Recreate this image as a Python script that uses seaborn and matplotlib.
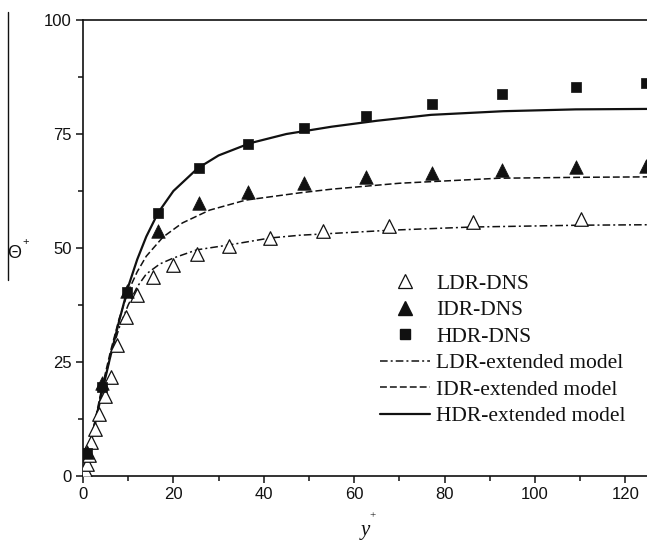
import matplotlib
matplotlib.use("Agg")
import matplotlib.pyplot as plt
from matplotlib.lines import Line2D
from matplotlib.ticker import MultipleLocator
import seaborn as sns
import pandas as pd

# ---- data ----
ldr_x = [0.2, 0.5, 0.8, 1.3, 1.8, 2.7, 3.5, 4.9, 6.2, 7.6, 9.6, 12.0, 15.5, 19.9, 25.2, 32.3, 41.4, 53.0, 67.7, 86.3, 110.2]
ldr_y = [0.5, 1.3, 2.6, 4.6, 7.5, 10.2, 13.5, 17.5, 21.8, 28.8, 34.9, 39.7, 43.6, 46.3, 48.7, 50.4, 52.2, 53.7, 54.8, 55.7, 56.4]

dns_x = [0.9, 4.2, 9.7, 16.6, 25.6, 36.5, 48.9, 62.6, 77.2, 92.7, 109.0, 124.5]
idr_y = [5.3, 20.5, 40.6, 53.8, 59.8, 62.3, 64.2, 65.5, 66.4, 67.2, 67.7, 67.9]
hdr_y = [5.0, 19.5, 40.4, 57.7, 67.6, 72.8, 76.3, 79.0, 81.6, 83.8, 85.4, 86.1]

hdr_mx = [0, 2, 4, 6, 8, 10, 12, 14, 16.6, 20, 25.4, 30, 37, 45, 55, 65, 77, 93, 109, 125]
hdr_my = [0, 8.5, 17.5, 26, 34, 41.5, 47.5, 52.5, 57.7, 62.5, 67.5, 70.3, 73, 75, 76.6, 77.9, 79.2, 80, 80.4, 80.5]

idr_mx = [0, 2, 4, 6, 8, 10, 12, 14, 17.7, 22, 28, 36, 48, 55, 70, 92, 110, 125]
idr_my = [0, 9, 18.5, 27, 34.5, 40.5, 44.8, 48.2, 52.4, 55.5, 58.3, 60.5, 62.1, 62.9, 64.2, 65.3, 65.5, 65.6]

ldr_mx = [0, 2, 4, 6, 8, 10, 12, 14, 17, 20, 25.2, 32.5, 41.4, 48, 68, 86, 110, 125]
ldr_my = [0, 9, 18, 26, 32.5, 37.5, 41.5, 44.3, 46.5, 47.8, 49.6, 50.7, 52.2, 52.8, 53.9, 54.6, 55, 55.1]

labels = ["LDR-DNS", "IDR-DNS", "HDR-DNS",
          "LDR-extended model", "IDR-extended model", "HDR-extended model"]
x_ticks = [0, 20, 40, 60, 80, 100, 120]
y_ticks = [0, 25, 50, 75, 100]

# ---- figure ----
sns.set_theme(style="white")
plt.rcParams["font.family"] = ["Liberation Sans", "DejaVu Sans"]

fig = plt.figure(figsize=(6.47, 5.5), dpi=100)
W, H = 647, 550
ax = fig.add_axes([83 / W, 1 - 476 / H, (648 - 83) / W, (476 - 20) / H])

ink = "#111111"
sns.lineplot(x=ldr_mx, y=ldr_my, ax=ax, color=ink, lw=1.1, sort=False, estimator=None)
sns.lineplot(x=idr_mx, y=idr_my, ax=ax, color=ink, lw=1.1, sort=False, estimator=None)
sns.lineplot(x=hdr_mx, y=hdr_my, ax=ax, color=ink, lw=1.6, sort=False, estimator=None)
ls_ldr = (0, (5, 2, 1.3, 2))
ls_idr = (0, (4.5, 2))
ax.lines[0].set_linestyle(ls_ldr)
ax.lines[1].set_linestyle(ls_idr)

sns.scatterplot(x=ldr_x, y=ldr_y, ax=ax, marker="^", s=95, facecolor="white",
                edgecolor=ink, linewidth=0.9, zorder=3)
sns.scatterplot(x=dns_x, y=idr_y, ax=ax, marker="^", s=95, color=ink,
                edgecolor=ink, linewidth=0.5, zorder=3)
sns.scatterplot(x=dns_x, y=hdr_y, ax=ax, marker="s", s=60, color=ink,
                edgecolor=ink, linewidth=0.5, zorder=3)

ax.set_xlim(0, 125)
ax.set_ylim(0, 100)
ax.set_xticks(x_ticks)
ax.set_yticks(y_ticks)
ax.xaxis.set_minor_locator(MultipleLocator(10))
ax.yaxis.set_minor_locator(MultipleLocator(12.5))
ax.tick_params(which="major", direction="out", length=5, width=1.1, color=ink,
               labelsize=12, labelcolor=ink, pad=3, bottom=True, left=True)
ax.tick_params(which="minor", direction="out", length=3.5, width=1.1, color=ink,
               bottom=True, left=True)
for s in ["left", "bottom", "top"]:
    ax.spines[s].set_color(ink)
    ax.spines[s].set_linewidth(1.2)
ax.spines["right"].set_visible(False)
ax.set_xlabel("")
ax.set_ylabel("")

# axis titles
fig.text(365 / W, 1 - 530 / H, "y", fontsize=15, style="italic",
         family=["Liberation Serif", "DejaVu Serif"], ha="center", va="center", color=ink)
fig.text(373 / W, 1 - 516 / H, "+", fontsize=8, family=["Liberation Serif"],
         ha="center", va="center", color=ink)
fig.text(14 / W, 1 - 253 / H, "Θ", fontsize=13, ha="center", va="center", color=ink)
fig.text(26 / W, 1 - 242 / H, "+", fontsize=8, ha="center", va="center", color=ink)
fig.add_artist(Line2D([8 / W, 8 / W], [1 - 12 / H, 1 - 280 / H], color=ink, lw=1.0,
                      transform=fig.transFigure))

# legend
handles = [
    Line2D([], [], ls="none", marker="^", ms=9.5, mfc="white", mec=ink, mew=0.9),
    Line2D([], [], ls="none", marker="^", ms=9.5, mfc=ink, mec=ink),
    Line2D([], [], ls="none", marker="s", ms=7.5, mfc=ink, mec=ink),
    Line2D([], [], color=ink, lw=1.1, ls=ls_ldr),
    Line2D([], [], color=ink, lw=1.1, ls=ls_idr),
    Line2D([], [], color=ink, lw=1.6),
]
leg = fig.legend(handles, labels, loc="center", bbox_to_anchor=(503 / W, 1 - 350 / H),
                 frameon=False, prop={"family": ["Liberation Serif"], "size": 15.5},
                 handlelength=2.3, handletextpad=0.3, labelspacing=0.3,
                 borderpad=0, borderaxespad=0)
for t in leg.get_texts():
    t.set_color(ink)

fig.savefig("out.png", dpi=100, facecolor="white")
